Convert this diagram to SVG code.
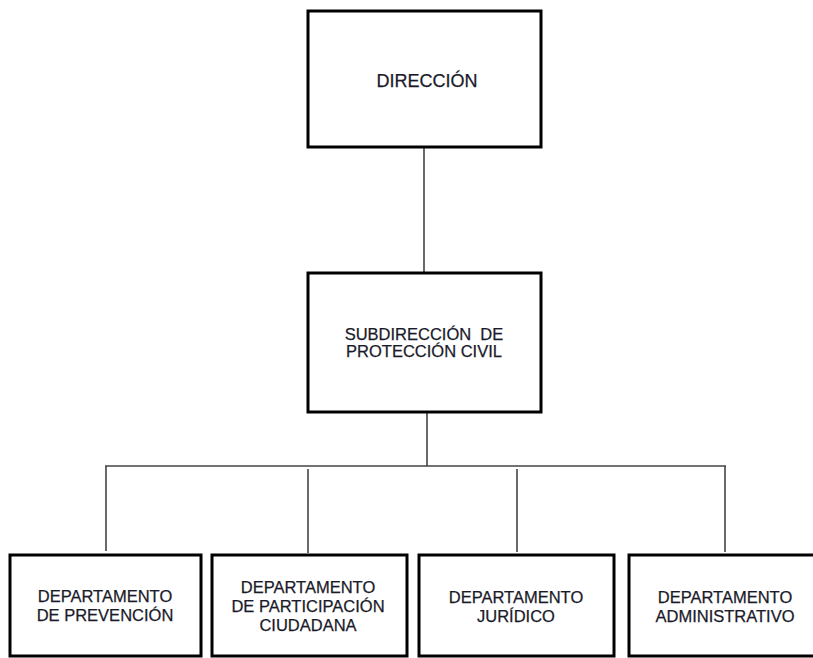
<svg xmlns="http://www.w3.org/2000/svg" width="813" height="658" viewBox="0 0 813 658">
<style>
.box{fill:#fff;stroke:#000;stroke-width:3}
.t{font-family:"Liberation Sans",Arial,sans-serif;font-size:16.5px;fill:#1a1a2a;text-anchor:middle;stroke:#1a1a2a;stroke-width:0.25}
.c{stroke:#444;stroke-width:1.6;fill:none}
</style>
<rect width="813" height="658" fill="#fff"/>
<g id="connectors">
<line class="c" x1="424" y1="147" x2="424" y2="273"/>
<line class="c" x1="427" y1="412" x2="427" y2="466"/>
<line class="c" x1="105" y1="466" x2="726" y2="466"/>
<line class="c" x1="106" y1="466" x2="106" y2="551"/>
<line class="c" x1="308" y1="469" x2="308" y2="553"/>
<line class="c" x1="517" y1="469" x2="517" y2="552"/>
<line class="c" x1="725" y1="466" x2="725" y2="552"/>
</g>
<g id="direccion">
<rect class="box" x="308" y="11" width="233" height="136"/>
<text class="t" x="427" y="87" style="font-size:18px">DIRECCIÓN</text>
</g>
<g id="subdireccion">
<rect class="box" x="308" y="273" width="233" height="139"/>
<text class="t" x="424" y="340" xml:space="preserve">SUBDIRECCIÓN  DE</text>
<text class="t" x="424" y="357">PROTECCIÓN CIVIL</text>
</g>
<g id="prevencion">
<rect class="box" x="10" y="555" width="191" height="101"/>
<text class="t" x="105" y="602">DEPARTAMENTO</text>
<text class="t" x="105" y="621">DE PREVENCIÓN</text>
</g>
<g id="participacion">
<rect class="box" x="212" y="555" width="195" height="101"/>
<text class="t" x="308" y="593">DEPARTAMENTO</text>
<text class="t" x="308" y="612">DE PARTICIPACIÓN</text>
<text class="t" x="308" y="631">CIUDADANA</text>
</g>
<g id="juridico">
<rect class="box" x="419" y="555" width="195" height="101"/>
<text class="t" x="516" y="603">DEPARTAMENTO</text>
<text class="t" x="516" y="622">JURÍDICO</text>
</g>
<g id="administrativo">
<rect class="box" x="629" y="555" width="190" height="101"/>
<text class="t" x="725" y="603">DEPARTAMENTO</text>
<text class="t" x="725" y="622">ADMINISTRATIVO</text>
</g>
</svg>
